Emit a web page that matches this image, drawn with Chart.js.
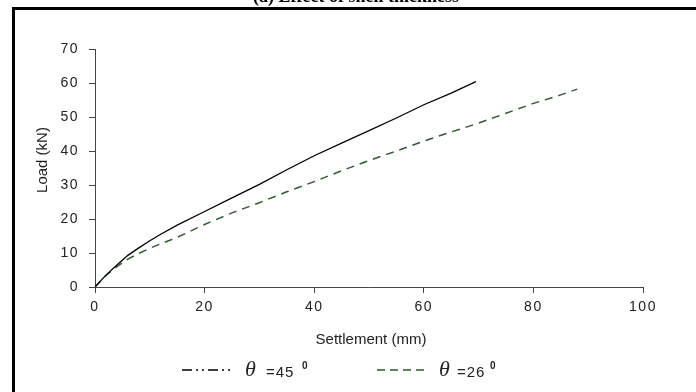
<!DOCTYPE html>
<html>
<head>
<meta charset="utf-8">
<script src="https://cdn.jsdelivr.net/npm/chart.js@4"></script>
<style>
  html, body { margin: 0; padding: 0; background: #fff; }
  canvas { display: block; }
</style>
</head>
<body>
<canvas id="loadChart" width="696" height="392"></canvas>
<script>
// ===== DATA =====
const settle45 = [0, 2, 4, 6, 8, 10, 12, 15, 20, 25, 30, 35, 40, 45, 50, 55, 60, 65, 69.5];
const load45   = [0, 3.5, 6.5, 9.3, 11.5, 13.6, 15.5, 18.2, 22.2, 26.2, 30.2, 34.5, 38.6, 42.3, 46.0, 49.7, 53.6, 57.0, 60.4];

const settle26 = [0, 2, 4, 6, 8, 10, 12, 15, 20, 25, 30, 35, 40, 45, 50, 55, 60, 65, 70, 75, 80, 85, 88];
const load26   = [0, 3.4, 6, 8.2, 9.9, 11.4, 12.7, 14.6, 18.4, 21.8, 24.8, 28, 31, 34.2, 37.2, 40.0, 42.9, 45.6, 48.2, 51.1, 54.0, 56.5, 58.2];

const xTicks = [0, 20, 40, 60, 80, 100];
const yTicks = [0, 10, 20, 30, 40, 50, 60, 70];

const GREEN = '#2b5e2b';
const AXIS = '#444';
const SANS = '"Liberation Sans", Arial, sans-serif';

const toPoints = (xs, ys) => xs.map((x, i) => ({ x: x, y: ys[i] }));

// ===== FRAME, TITLES, LEGEND =====
const decorations = {
  id: 'decorations',
  beforeDraw(chart) {
    chart.ctx.letterSpacing = '1.5px';
  },
  afterDraw(chart) {
    const ctx = chart.ctx;
    ctx.save();
    ctx.letterSpacing = '0px';

    // frame (top and left edges)
    ctx.fillStyle = '#000';
    ctx.fillRect(12, 7, 684, 3);
    ctx.fillRect(12, 7, 3, 385);

    // figure caption, cut off at the top
    ctx.font = 'bold 18px "Liberation Serif", serif';
    ctx.textAlign = 'center';
    ctx.textBaseline = 'alphabetic';
    ctx.fillText('(a) Effect of shell thickness', 356, 2);

    // axis titles
    ctx.fillStyle = '#222';
    ctx.font = '15px ' + SANS;
    ctx.textBaseline = 'middle';
    ctx.fillText('Settlement (mm)', 371, 340);
    ctx.save();
    ctx.translate(43, 160);
    ctx.rotate(-Math.PI / 2);
    ctx.fillText('Load (kN)', 0, 0);
    ctx.restore();

    // legend
    const entries = [
      { x0: 182, x1: 232, dash: [10, 4, 2, 4, 2, 4], color: '#000', theta: 245, eq: 266, label: '=45', sup: 302 },
      { x0: 377, x1: 427, dash: [8, 5], color: GREEN, theta: 439, eq: 457, label: '=26', sup: 490 }
    ];
    const ly = 370;
    entries.forEach(e => {
      ctx.beginPath();
      ctx.setLineDash(e.dash);
      ctx.strokeStyle = e.color;
      ctx.lineWidth = 1.3;
      ctx.moveTo(e.x0, ly);
      ctx.lineTo(e.x1, ly);
      ctx.stroke();
      ctx.setLineDash([]);

      ctx.fillStyle = '#222';
      ctx.textAlign = 'left';
      ctx.textBaseline = 'alphabetic';
      ctx.font = 'italic 22px "Liberation Serif", serif';
      ctx.fillText('θ', e.theta, 376);
      ctx.font = '15px ' + SANS;
      ctx.letterSpacing = '1px';
      ctx.fillText(e.label, e.eq, 377);
      ctx.letterSpacing = '0px';
      ctx.font = 'bold 10px ' + SANS;
      ctx.fillText('0', e.sup, 369);
    });
    ctx.restore();
  }
};

// ===== CHART =====
new Chart(document.getElementById('loadChart'), {
  type: 'scatter',
  data: {
    datasets: [{
      label: 'θ = 45°',
      data: toPoints(settle45, load45),
      showLine: true,
      borderColor: '#000',
      borderWidth: 1.3,
      pointRadius: 0,
      tension: 0
    }, {
      label: 'θ = 26°',
      data: toPoints(settle26, load26),
      showLine: true,
      borderColor: GREEN,
      borderWidth: 1.5,
      borderDash: [8, 6],
      pointRadius: 0,
      tension: 0
    }]
  },
  options: {
    responsive: false,
    devicePixelRatio: 1,
    animation: false,
    layout: { padding: { left: 0, top: 49, right: 53, bottom: 0 } },
    plugins: { legend: { display: false }, tooltip: { enabled: false } },
    scales: {
      x: {
        type: 'linear',
        min: 0, max: 100,
        afterFit: s => { s.height = 105; },
        afterBuildTicks: s => { s.ticks = xTicks.map(v => ({ value: v })); },
        ticks: { color: '#222', font: { family: SANS, size: 14 }, padding: 6, maxRotation: 0 },
        grid: { display: true, drawOnChartArea: false, drawTicks: true, tickLength: 6, color: AXIS },
        border: { display: true, color: AXIS, width: 1 }
      },
      y: {
        type: 'linear',
        min: 0, max: 70,
        afterFit: s => { s.width = 95; },
        afterBuildTicks: s => { s.ticks = yTicks.map(v => ({ value: v })); },
        ticks: { color: '#222', font: { family: SANS, size: 14 }, padding: 10 },
        grid: { display: true, drawOnChartArea: false, drawTicks: true, tickLength: 6, color: AXIS },
        border: { display: true, color: AXIS, width: 1 }
      }
    }
  },
  plugins: [decorations]
});
</script>
</body>
</html>
